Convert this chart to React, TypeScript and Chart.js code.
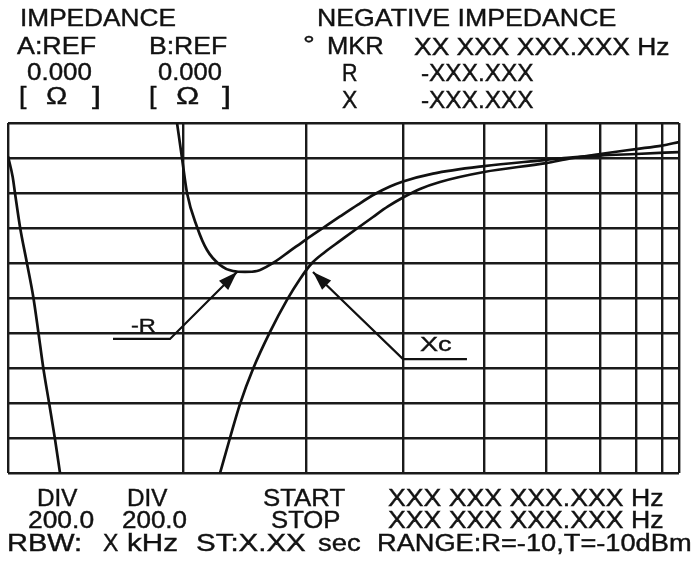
import React, { useEffect, useRef } from "react";
import { Chart, registerables } from "chart.js";

Chart.register(...registerables);

// ---------------- data ----------------
// Sweep axis (start = 0 .. stop = 1000), hand-drawn log-style graticule
const xGridLines = [0, 261.5, 444, 589, 709, 802, 882, 936, 975, 1000];
// Vertical axis: 10 divisions of 200.0 ohm
const yDivision = 200;
const yMinVal = -1000;
const yMaxVal = 1000;

// Left steep trace
const leftTraceX = [0, 7, 10.4, 17.9, 27.9, 37.7, 45.2, 52.6, 61.5, 70, 77.5];
const leftTraceY = [810, 691, 600, 406, 206, 6, -194, -400, -606, -806, -1000];

// -R trace
const negRX = [251.9, 259.3, 266.8, 281.7, 296.6, 315.9, 335.3, 353.2, 371.1, 394.9, 420.3, 444.1, 469.4, 494.8, 521.6, 546.9, 569.3, 588.7, 633.4, 709.4, 801.8, 837.5, 882.3, 935.9, 1000];
const negRY = [1000, 800, 600, 406, 274, 189, 154, 149, 154, 200, 269, 334, 400, 466, 534, 594, 637, 666, 711, 754, 789, 803, 814, 823, 834];

// Xc trace
const xcX = [316, 330.8, 345.7, 365.1, 390.5, 415.8, 435.2, 453.1, 472.4, 494.8, 520.1, 544, 566.3, 588.7, 614, 643.8, 709.4, 801.8, 837.5, 882.3, 935.9, 974.6, 1000];
const xcY = [-1000, -800, -606, -406, -194, -11, 109, 200, 263, 326, 397, 463, 523, 574, 623, 663, 720, 771, 797, 823, 851, 871, 891];

// Leader lines (last point = arrow tip), in axis units
const negRLeaderX = [156.5, 241.4, 341.3];
const negRLeaderY = [-234, -234, 149];
const xcLeaderX = [684, 588.7, 454.5];
const xcLeaderY = [-349, -349, 149];

// ---------------- texts ----------------
type TextItem = { t: string; x0: number; x1: number; base: number; fs: number };

const textItems: TextItem[] = [
  { t: "IMPEDANCE", x0: 20.7, x1: 173.3, base: 26.5, fs: 24 },
  { t: "NEGATIVE IMPEDANCE", x0: 318, x1: 615, base: 26.5, fs: 24 },
  { t: "A:REF", x0: 18, x1: 97, base: 54, fs: 23 },
  { t: "B:REF", x0: 150, x1: 227, base: 54, fs: 23 },
  { t: "°", x0: 304, x1: 313, base: 52, fs: 23 },
  { t: "MKR", x0: 328, x1: 383, base: 54.5, fs: 23 },
  { t: "XX XXX XXX.XXX Hz", x0: 415, x1: 670, base: 55, fs: 23 },
  { t: "0.000", x0: 28, x1: 92, base: 80, fs: 23 },
  { t: "0.000", x0: 159, x1: 222, base: 80, fs: 23 },
  { t: "R", x0: 343, x1: 357, base: 81.5, fs: 23 },
  { t: "-XXX.XXX", x0: 422, x1: 533, base: 81.5, fs: 23 },
  { t: "[", x0: 20, x1: 27, base: 104, fs: 23 },
  { t: "Ω", x0: 47, x1: 68, base: 104, fs: 23 },
  { t: "]", x0: 93, x1: 100, base: 104, fs: 23 },
  { t: "[", x0: 150, x1: 157, base: 104, fs: 23 },
  { t: "Ω", x0: 177, x1: 200, base: 104, fs: 23 },
  { t: "]", x0: 223, x1: 230, base: 104, fs: 23 },
  { t: "X", x0: 343, x1: 358, base: 108, fs: 23 },
  { t: "-XXX.XXX", x0: 422, x1: 533, base: 108, fs: 23 },
  { t: "DIV", x0: 38, x1: 78, base: 506, fs: 23 },
  { t: "DIV", x0: 128, x1: 168, base: 506, fs: 23 },
  { t: "START", x0: 264, x1: 345, base: 506, fs: 23 },
  { t: "XXX XXX XXX.XXX Hz", x0: 389, x1: 664, base: 506, fs: 23 },
  { t: "200.0", x0: 29, x1: 93, base: 528, fs: 23 },
  { t: "200.0", x0: 123, x1: 186, base: 528, fs: 23 },
  { t: "STOP", x0: 272, x1: 340, base: 528, fs: 23 },
  { t: "XXX XXX XXX.XXX Hz", x0: 389, x1: 664, base: 528, fs: 23 },
  { t: "RBW:", x0: 8, x1: 80, base: 551, fs: 23 },
  { t: "X", x0: 104, x1: 119, base: 551, fs: 23 },
  { t: "kHz", x0: 128, x1: 177, base: 551, fs: 23 },
  { t: "ST:X.XX", x0: 197, x1: 305, base: 551, fs: 23 },
  { t: "sec", x0: 319, x1: 361, base: 551, fs: 23 },
  { t: "RANGE:R=-10,T=-10dBm", x0: 378, x1: 690, base: 551, fs: 23 },
  { t: "-R", x0: 132, x1: 156, base: 332, fs: 19 },
  { t: "Xc", x0: 421, x1: 452, base: 351, fs: 21 },
];

const FONT = '"Liberation Sans", Arial, Helvetica, sans-serif';
const INK = "#111111";

let measureCtx: CanvasRenderingContext2D | null = null;
function measure(t: string, fs: number): number {
  if (!measureCtx) measureCtx = document.createElement("canvas").getContext("2d");
  if (!measureCtx) return t.length * fs * 0.6;
  measureCtx.font = `${fs}px ${FONT}`;
  const m = measureCtx.measureText(t);
  const ink = (m.actualBoundingBoxLeft || 0) + (m.actualBoundingBoxRight || 0);
  return ink > 0 ? ink : m.width;
}

function Label({ item }: { item: TextItem }) {
  const natural = measure(item.t, item.fs);
  const k = Math.max(0.7, Math.min(1.5, (item.x1 - item.x0) / natural));
  const top = item.base - 0.8465 * item.fs;
  return (
    <span
      style={{
        position: "absolute",
        left: item.x0 - 1,
        top,
        fontFamily: FONT,
        fontSize: item.fs,
        lineHeight: 1,
        whiteSpace: "pre",
        color: INK,
        WebkitTextStroke: `0.4px ${INK}`,
        transform: `scaleX(${k})`,
        transformOrigin: "left top",
      }}
    >
      {item.t}
    </span>
  );
}

function toPoints(xs: number[], ys: number[]) {
  return xs.map((x, i) => ({ x, y: ys[i] }));
}

const leaderPlugin = {
  id: "leaders",
  afterDatasetsDraw(chart: any) {
    const { ctx } = chart;
    const xs = chart.scales.x;
    const ys = chart.scales.y;
    const draw = (lx: number[], ly: number[]) => {
      const pts = lx.map((v, i) => [xs.getPixelForValue(v), ys.getPixelForValue(ly[i])]);
      ctx.save();
      ctx.strokeStyle = INK;
      ctx.fillStyle = INK;
      ctx.lineWidth = 2.2;
      ctx.beginPath();
      pts.forEach((p, i) => (i === 0 ? ctx.moveTo(p[0], p[1]) : ctx.lineTo(p[0], p[1])));
      ctx.stroke();
      const tip = pts[pts.length - 1];
      const prev = pts[pts.length - 2];
      const ang = Math.atan2(tip[1] - prev[1], tip[0] - prev[0]);
      const len = 19;
      const hw = 6.5;
      const bx = tip[0] - len * Math.cos(ang);
      const by = tip[1] - len * Math.sin(ang);
      ctx.beginPath();
      ctx.moveTo(tip[0], tip[1]);
      ctx.lineTo(bx + hw * Math.sin(ang), by - hw * Math.cos(ang));
      ctx.lineTo(bx - hw * Math.sin(ang), by + hw * Math.cos(ang));
      ctx.closePath();
      ctx.fill();
      ctx.restore();
    };
    draw(negRLeaderX, negRLeaderY);
    draw(xcLeaderX, xcLeaderY);
  },
};

export default function App() {
  const canvasRef = useRef<HTMLCanvasElement | null>(null);

  useEffect(() => {
    if (!canvasRef.current) return;
    const lineDs = (label: string, xs: number[], ys: number[]) => ({
      label,
      data: toPoints(xs, ys),
      borderColor: INK,
      borderWidth: 2.7,
      pointRadius: 0,
      fill: false,
      cubicInterpolationMode: "monotone" as const,
    });
    const chart = new Chart(canvasRef.current, {
      type: "line",
      data: {
        datasets: [
          lineDs("left", leftTraceX, leftTraceY),
          lineDs("-R", negRX, negRY),
          lineDs("Xc", xcX, xcY),
        ],
      },
      options: {
        animation: false,
        responsive: false,
        maintainAspectRatio: false,
        events: [],
        layout: { padding: { left: 8, right: 14, top: 123, bottom: 94 } },
        plugins: { legend: { display: false }, tooltip: { enabled: false }, title: { display: false } },
        scales: {
          x: {
            type: "linear",
            min: 0,
            max: 1000,
            afterBuildTicks: (axis: any) => {
              axis.ticks = xGridLines.map((v) => ({ value: v }));
            },
            ticks: { display: false },
            grid: { color: "#1a1a1a", lineWidth: 2.4, drawTicks: false },
            border: { display: false },
          },
          y: {
            type: "linear",
            min: yMinVal,
            max: yMaxVal,
            ticks: { display: false, stepSize: yDivision },
            grid: { color: "#1a1a1a", lineWidth: 2.4, drawTicks: false },
            border: { display: false },
          },
        },
      },
      plugins: [leaderPlugin],
    });
    return () => chart.destroy();
  }, []);

  return (
    <div style={{ position: "absolute", left: 0, top: 0, width: 693, height: 567, background: "#fff", overflow: "hidden" }}>
      <canvas ref={canvasRef} width={693} height={567} style={{ position: "absolute", left: 0, top: 0, width: 693, height: 567 }} />
      {textItems.map((it, i) => (
        <Label key={i} item={it} />
      ))}
    </div>
  );
}
